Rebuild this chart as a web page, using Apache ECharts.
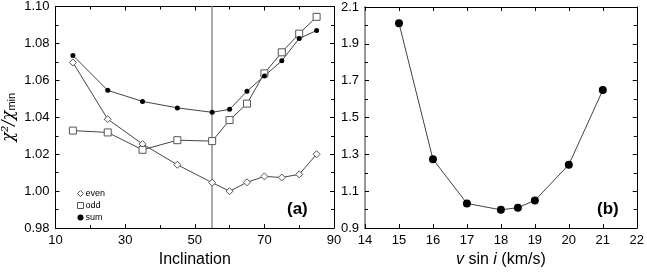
<!DOCTYPE html>
<html><head><meta charset="utf-8">
<script src="https://cdn.jsdelivr.net/npm/echarts@6/dist/echarts.min.js"></script>
<style>html,body{margin:0;padding:0;background:#fff}#c{width:647px;height:273px}</style>
</head><body><div id="c"></div>
<script>
// Panel (a)
const inclination = [15, 25, 35, 45, 55, 60, 65, 70, 75, 80, 85];
const evenVals = [1.0697, 1.039, 1.0255, 1.0143, 1.0046, 1.000, 1.0048, 1.008, 1.0074, 1.0091, 1.020];
const oddVals  = [1.0328, 1.0318, 1.0224, 1.0276, 1.0271, 1.0385, 1.0474, 1.0638, 1.0752, 1.0853, 1.0944];
const sumVals  = [1.0735, 1.0546, 1.0486, 1.0451, 1.0427, 1.0443, 1.0541, 1.0624, 1.0706, 1.0827, 1.087];
const markInclination = 55;
// Panel (b)
const vsini = [15, 16, 17, 18, 18.5, 19, 20, 21];
const chiB  = [2.012, 1.274, 1.034, 0.999, 1.011, 1.050, 1.244, 1.649];

const FONT = 'Liberation Sans, Arial, Helvetica, sans-serif';
const lineCol = '#444';
const zip = (a, b) => a.map((x, i) => [x, b[i]]);

function frameAxis(base) {
  return Object.assign({
    axisLine: {show: true, onZero: false, lineStyle: {color: '#000', width: 1}},
    axisTick: {show: true, inside: true, length: 4, lineStyle: {color: '#000'}},
    minorTick: {show: true, splitNumber: 2, length: 3, lineStyle: {color: '#000'}},
    splitLine: {show: false},
    axisLabel: {show: false}
  }, base);
}
const lblStyle = {show: true, fontFamily: FONT, fontSize: 13, color: '#000', margin: 6};

const chart = echarts.init(document.getElementById('c'), null, {renderer: 'canvas'});
chart.setOption({
  animation: false,
  backgroundColor: '#fff',
  grid: [
    {left: 55, right: 313, top: 6, bottom: 37},
    {left: 365, right: 7, top: 7, bottom: 37}
  ],
  legend: {
    orient: 'vertical', left: 72, top: 184, itemGap: 3, itemWidth: 6, itemHeight: 6,
    textStyle: {fontFamily: FONT, fontSize: 9, color: '#000', padding: [0, 0, 0, -3]},
    data: [
      {name: 'even', icon: 'diamond', itemStyle: {color: '#fff', borderColor: '#555', borderWidth: 1}},
      {name: 'odd', icon: 'rect', itemStyle: {color: '#fff', borderColor: '#555', borderWidth: 1}},
      {name: 'sum', icon: 'circle', itemStyle: {color: '#000', borderWidth: 0}}
    ],
    selectedMode: false
  },
  xAxis: [
    frameAxis({gridIndex: 0, type: 'value', min: 10, max: 90, interval: 20, position: 'bottom',
      axisLabel: lblStyle,
      name: 'Inclination', nameLocation: 'middle', nameGap: 21,
      nameTextStyle: {fontFamily: FONT, fontSize: 16, color: '#000'}}),
    frameAxis({gridIndex: 0, type: 'value', min: 10, max: 90, interval: 20, position: 'top'}),
    frameAxis({gridIndex: 1, type: 'value', min: 14, max: 22, interval: 1, position: 'bottom',
      minorTick: {show: false},
      axisLabel: lblStyle,
      name: '{i|v} sin {i|i} (km/s)', nameLocation: 'middle', nameGap: 21,
      nameTextStyle: {fontFamily: FONT, fontSize: 16, color: '#000',
        rich: {i: {fontFamily: FONT, fontSize: 16, fontStyle: 'italic', color: '#000'}}}}),
    frameAxis({gridIndex: 1, type: 'value', min: 14, max: 22, interval: 1, position: 'top',
      minorTick: {show: false}})
  ],
  yAxis: [
    frameAxis({gridIndex: 0, type: 'value', min: 0.98, max: 1.10, interval: 0.02, position: 'left',
      axisLabel: Object.assign({}, lblStyle, {formatter: v => v.toFixed(2)}),
      name: '{a|χ²/χ}{b|min}', nameLocation: 'middle', nameGap: 38, nameRotate: 90,
      nameTextStyle: {fontFamily: FONT, fontSize: 16, color: '#000',
        rich: {a: {fontFamily: 'DejaVu Serif, serif', fontSize: 16, color: '#000', fontStyle: 'italic'},
               b: {fontFamily: FONT, fontSize: 11, color: '#000', verticalAlign: 'bottom', padding: [6, 0, 0, 0]}}}}),
    frameAxis({gridIndex: 0, type: 'value', min: 0.98, max: 1.10, interval: 0.02, position: 'right'}),
    frameAxis({gridIndex: 1, type: 'value', min: 0.9, max: 2.1, interval: 0.2, position: 'left',
      axisLine: {show: true, onZero: false, lineStyle: {color: '#999', width: 2}},
      axisLabel: Object.assign({}, lblStyle, {formatter: v => v.toFixed(1)})}),
    frameAxis({gridIndex: 1, type: 'value', min: 0.9, max: 2.1, interval: 0.2, position: 'right'})
  ],
  series: [
    {name: 'even', type: 'line', xAxisIndex: 0, yAxisIndex: 0, data: zip(inclination, evenVals),
      symbol: 'diamond', symbolSize: 7, lineStyle: {color: lineCol, width: 1},
      itemStyle: {color: '#fff', borderColor: '#555', borderWidth: 1}, z: 3,
      markLine: {silent: true, symbol: 'none', label: {show: false},
        lineStyle: {color: '#aaa', width: 2, type: 'solid'}, data: [{xAxis: markInclination}], z: 1}},
    {name: 'odd', type: 'line', xAxisIndex: 0, yAxisIndex: 0, data: zip(inclination, oddVals),
      symbol: 'rect', symbolSize: 7, lineStyle: {color: lineCol, width: 1},
      itemStyle: {color: '#fff', borderColor: '#555', borderWidth: 1}, z: 3},
    {name: 'sum', type: 'line', xAxisIndex: 0, yAxisIndex: 0, data: zip(inclination, sumVals),
      symbol: 'circle', symbolSize: 5, lineStyle: {color: lineCol, width: 1},
      itemStyle: {color: '#000', borderWidth: 0}, z: 4},
    {name: 'b', type: 'line', xAxisIndex: 2, yAxisIndex: 2, data: zip(vsini, chiB),
      symbol: 'circle', symbolSize: 8, lineStyle: {color: lineCol, width: 1},
      itemStyle: {color: '#000', borderWidth: 0}, z: 4}
  ],
  graphic: [
    {type: 'text', left: 287, top: 201, style: {text: '(a)', fontFamily: FONT, fontSize: 17, fontWeight: 'bold', fill: '#000'}},
    {type: 'text', left: 597, top: 201, style: {text: '(b)', fontFamily: FONT, fontSize: 17, fontWeight: 'bold', fill: '#000'}}
  ]
});
</script></body></html>
